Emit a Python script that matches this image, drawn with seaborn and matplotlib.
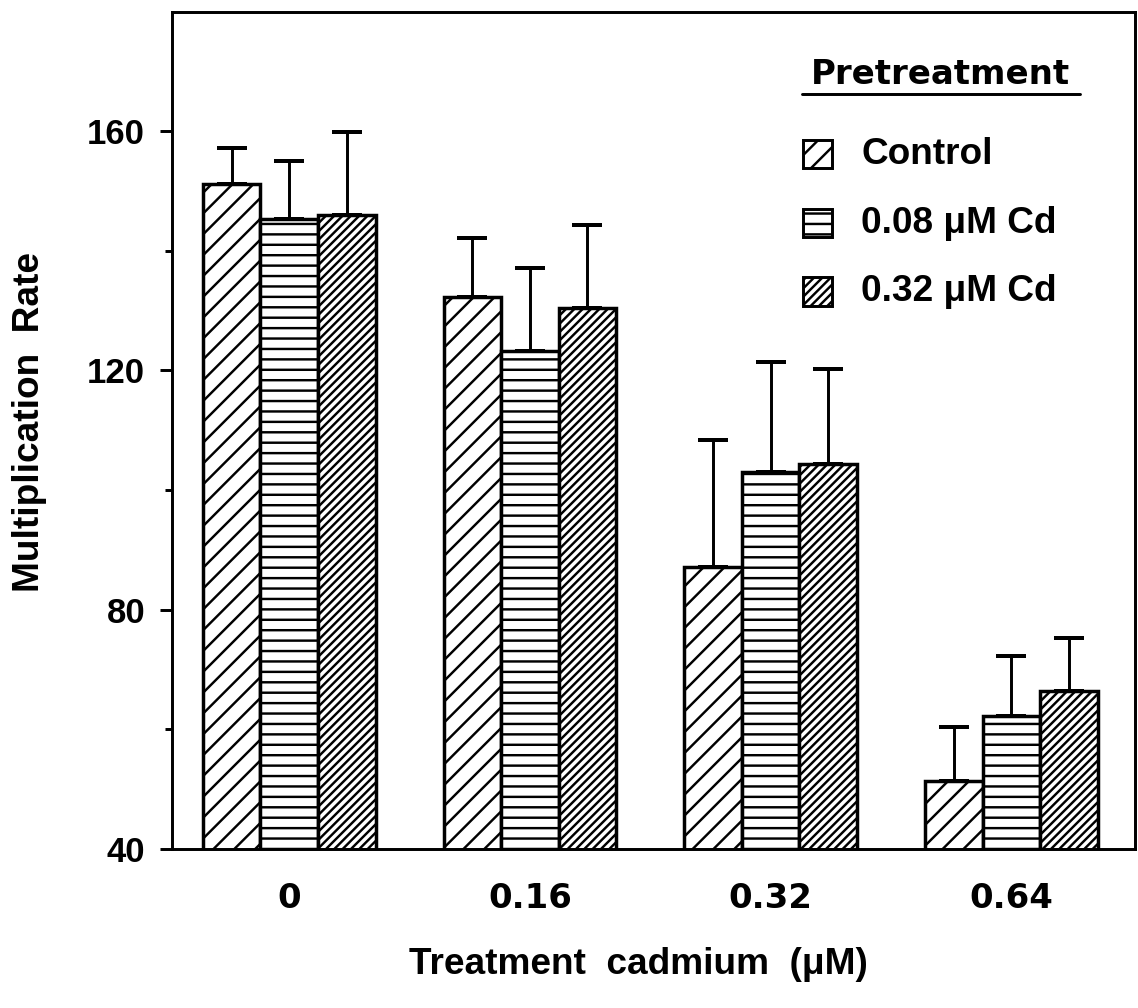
import numpy as np
import pandas as pd
import matplotlib
matplotlib.use("Agg")
import matplotlib.pyplot as plt
from matplotlib.patches import Patch, Rectangle
from matplotlib.legend_handler import HandlerPatch
from matplotlib.ticker import FixedLocator
import seaborn as sns

# Treatment cadmium concentrations (µM) and pretreatment groups
treatments = ["0", "0.16", "0.32", "0.64"]
pretreatments = ["Control", "0.08 μM Cd", "0.32 μM Cd"]
hatches = ["//", "--", "/////"]

# Mean multiplication rate and standard deviation per group
control_mean = [151.1, 132.2, 87.2, 51.4]
control_sd = [6.1, 9.9, 21.1, 9.0]
cd008_mean = [145.3, 123.3, 103.0, 62.3]
cd008_sd = [9.7, 13.8, 18.4, 9.9]
cd032_mean = [146.0, 130.5, 104.4, 66.4]
cd032_sd = [13.8, 13.8, 15.8, 8.8]

sns.set_style("ticks")
plt.rcParams["font.family"] = ["Liberation Sans", "DejaVu Sans"]
plt.rcParams["font.weight"] = "bold"
plt.rcParams["hatch.linewidth"] = 1.4
plt.rcParams["hatch.color"] = "black"
plt.rcParams["axes.linewidth"] = 1.7
plt.rcParams["axes.edgecolor"] = "black"
plt.rcParams["text.color"] = "black"
plt.rcParams["axes.labelcolor"] = "black"
plt.rcParams["xtick.color"] = "black"
plt.rcParams["ytick.color"] = "black"

df = pd.DataFrame({
    "treatment": np.tile(treatments, 3),
    "pretreatment": np.repeat(pretreatments, len(treatments)),
    "rate": np.concatenate([control_mean, cd008_mean, cd032_mean]),
    "sd": np.concatenate([control_sd, cd008_sd, cd032_sd]),
})

fig = plt.figure(figsize=(9.104, 8.064), dpi=125)
ax = fig.add_axes([0.15114, 0.15774, 0.84622, 0.83085])

sns.barplot(data=df, x="treatment", y="rate", hue="pretreatment",
            order=treatments, hue_order=pretreatments,
            palette=["white"] * 3, saturation=1, edgecolor="black",
            linewidth=2.0, width=0.717, errorbar=None, legend=False, ax=ax)

# Hatch each pretreatment series and add upward SD bars
for container, hatch, name in zip(ax.containers, hatches, pretreatments):
    sub = df[df["pretreatment"] == name].set_index("treatment").loc[treatments]
    for bar in container:
        bar.set_hatch(hatch)
    xs = [b.get_x() + b.get_width() / 2 for b in container]
    ax.errorbar(xs, sub["rate"].values,
                yerr=[np.zeros(len(xs)), sub["sd"].values],
                fmt="none", ecolor="black", elinewidth=1.7,
                capsize=8.6, capthick=2.3, zorder=0.5)

ax.set_xlim(-0.487, 3.514)
ax.set_ylim(40, 180)
ax.set_yticks([40, 80, 120, 160])
ax.yaxis.set_minor_locator(FixedLocator([60, 100, 140]))
ax.tick_params(axis="y", which="major", direction="out", length=6.9,
               width=1.7, pad=8.6, labelsize=20)
ax.tick_params(axis="y", which="minor", direction="out", length=4, width=1.7)
ax.tick_params(axis="x", which="both", length=0, pad=19)
for lab in ax.get_xticklabels():
    lab.set_fontfamily("DejaVu Sans")
    lab.set_fontsize(19.5)
    lab.set_fontweight("bold")
for lab in ax.get_yticklabels():
    lab.set_fontweight("bold")

for side in ["left", "right", "top", "bottom"]:
    ax.spines[side].set_visible(True)
    ax.spines[side].set_linewidth(1.7)
    ax.spines[side].set_color("black")

ax.set_xlabel("Treatment  cadmium  (μM)", fontsize=21.3, fontweight="bold",
              labelpad=18.5, x=0.484)
ax.set_ylabel("Multiplication  Rate", fontsize=21.3, fontweight="bold",
              labelpad=23, y=0.51)


def legend_box(legend, orig_handle, xdescent, ydescent, width, height, fontsize):
    # sit the swatch slightly below the text baseline
    return Rectangle((-xdescent, -ydescent - 0.08 * fontsize), width, height)


handles = [Patch(facecolor="white", edgecolor="black", hatch=h, linewidth=1.7, label=n)
           for h, n in zip(hatches, pretreatments)]
ax.legend(handles=handles, loc="upper left", bbox_to_anchor=(0.655, 0.850),
          frameon=False, borderpad=0, borderaxespad=0, handlelength=0.78,
          handleheight=0.8, handletextpad=0.8, labelspacing=0.91,
          prop=dict(family="Liberation Sans", weight="bold", size=21.3),
          handler_map={Patch: HandlerPatch(patch_func=legend_box)})

# Legend heading with a rule beneath it
ax.text(0.7975, 0.9134, "Pretreatment", transform=ax.transAxes, ha="center",
        va="baseline", fontfamily="DejaVu Sans", fontsize=19.6, fontweight="bold")
ax.plot([0.654, 0.943], [0.9015, 0.9015], transform=ax.transAxes,
        color="black", lw=1.7, clip_on=False)
ax.set_xlim(-0.487, 3.514)
ax.set_ylim(40, 180)

fig.savefig("out.png", dpi=125)
